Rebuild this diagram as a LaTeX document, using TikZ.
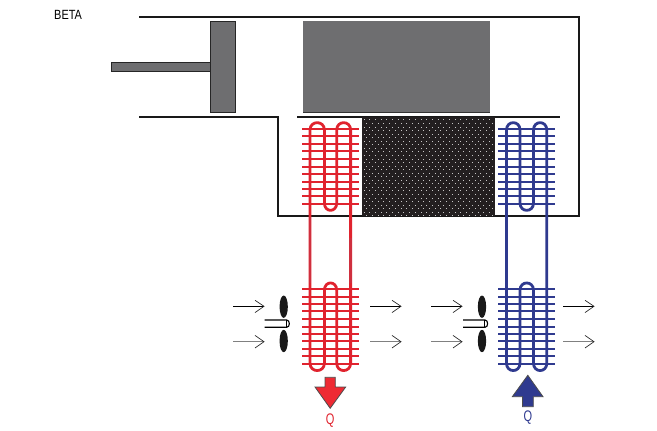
\documentclass[tikz,border=0pt]{standalone}
\usepackage{fontspec}
\setmainfont{Liberation Sans}
\definecolor{hotred}{HTML}{E0232E}
\definecolor{hotline}{HTML}{CF2F3E}
\definecolor{coldblue}{HTML}{2F3A8F}
\definecolor{arrowred}{HTML}{EE2A33}
\definecolor{midgray}{HTML}{6E6E70}
\definecolor{regen}{HTML}{231F20}
\tikzset{
  wall/.style={line width=1.5pt,black!90},
  solidgray/.style={fill=midgray,draw=black!85,line width=0.6pt},
  fin/.style={line width=1.5pt,line cap=butt},
  tube/.style={line width=2.1pt,line join=round},
  airflow/.style={line width=0.5pt,black},
  airflowlight/.style={line width=0.6pt,black!50},
  chevron/.style={line width=0.5pt,black!85},
  blade/.style={fill=black!90,draw=none},
  hub/.style={line width=0.85pt,black,fill=white},
  qlabel/.style={inner sep=0pt,font=\fontsize{11.5}{12}\selectfont,xscale=0.72},
  qarrow/.style={line width=0.6pt,draw=black!70,line join=miter}
}
\newcommand{\coilloop}[5]{% x1 x2 x3 x4 colour
  \draw[tube,#5] (#1,130) .. controls (#1,120.2) and (#2,120.2) .. (#2,130)
    -- (#2,203) .. controls (#2,212.8) and (#3,212.8) .. (#3,203)
    -- (#3,130) .. controls (#3,120.2) and (#4,120.2) .. (#4,130)
    -- (#4,363.2) .. controls (#4,373) and (#3,373) .. (#3,363.2)
    -- (#3,290.3) .. controls (#3,280.5) and (#2,280.5) .. (#2,290.3)
    -- (#2,363.2) .. controls (#2,373) and (#1,373) .. (#1,363.2) -- cycle;
}
\newcommand{\finset}[3]{% x1 x2 colour
  \foreach \yy in {128.7,136,143.7,151.3,159,166.7,174,181.7,189,196,203.7,
                   289,296.7,303.7,311.3,319,326.7,333.7,341.3,349,356.3,364}
    \draw[fin,#3] (#1,\yy) -- (#2,\yy);
}
\begin{document}
\begin{tikzpicture}[x=0.75pt,y=-0.75pt]
\useasboundingbox (0,0) rectangle (657,431);
% label
\node[inner sep=0pt,anchor=west,font=\fontsize{10}{10}\selectfont,xscale=0.82] (beta) at (54,14.5) {BETA};
% cylinder
\draw[wall] (139,17) -- (579,17) -- (579,216) -- (278,216) -- (278,117) -- (139,117);
\draw[wall] (297,117) -- (560,117);
% piston and displacer
\draw[solidgray] (111,62) rectangle (210,71);
\draw[solidgray] (210,21) rectangle (235,112);
\fill[midgray] (303,21) rectangle (490,112);
\draw[line width=0.6pt,black!80] (303,112) -- (490,112);
% regenerator
\fill[regen] (362,117) rectangle (495,216);
\foreach \i in {0,...,27}{
  \pgfmathsetmacro{\yy}{120+3.55*\i}
  \pgfmathsetmacro{\off}{mod(\i,2)*2.85}
  \foreach \j in {0,...,22}{
    \pgfmathsetmacro{\xx}{364+\off+5.7*\j}
    \fill[white!78!black] (\xx-0.5,\yy-0.5) rectangle (\xx+0.5,\yy+0.5);
  }
}
% coils
\finset{302}{359}{hotred}
\coilloop{310}{324.4}{336.7}{350.6}{hotred}
\draw[tube,hotline] (310,217) -- (310,283);
\draw[tube,hotline] (350.6,238) -- (350.6,283);
\finset{498}{555}{coldblue}
\coilloop{506.5}{520}{533.5}{546.8}{coldblue}
% fans
\foreach \fx in {283.7,482}{
  \fill[blade] (\fx,306.7) ellipse [x radius=3.1pt,y radius=8.4pt];
  \fill[blade] (\fx,341) ellipse [x radius=3.1pt,y radius=8.4pt];
  \draw[hub] (\fx-19,320) -- (\fx+3,320) .. controls (\fx+6.5,320) and (\fx+6.5,327.3) .. (\fx+3,327.3) -- (\fx-19,327.3);
  \draw[hub,line width=0.5pt] (\fx+2.2,320) -- (\fx+2.2,327.3);
}
% air arrows
\foreach \xa in {233,370,431,563}{
  \draw[airflow] (\xa,306.3) -- (\xa+31,306.3);
  \draw[chevron] (\xa+22,300.3) -- (\xa+31,306.3) -- (\xa+22,312.6);
  \draw[airflowlight] (\xa,341.7) -- (\xa+31,341.7);
  \draw[chevron] (\xa+22,335.4) -- (\xa+31,341.7) -- (\xa+22,348);
}
% heat arrows
\draw[qarrow,fill=arrowred] (325,377.3) -- (335.3,377.3) -- (335.3,387) -- (345.7,387) -- (330.2,408.3) -- (315,387) -- (325,387) -- cycle;
\draw[qarrow,fill=coldblue] (522.4,406.7) -- (533.3,406.7) -- (533.3,396.7) -- (543,396.7) -- (527.8,375.3) -- (512.3,396.7) -- (522.4,396.7) -- cycle;
\node[qlabel,text=hotred] (qhot) at (330.2,420.5) {Q};
\node[qlabel,text=coldblue] (qcold) at (528,418) {Q};
\end{tikzpicture}
\end{document}
